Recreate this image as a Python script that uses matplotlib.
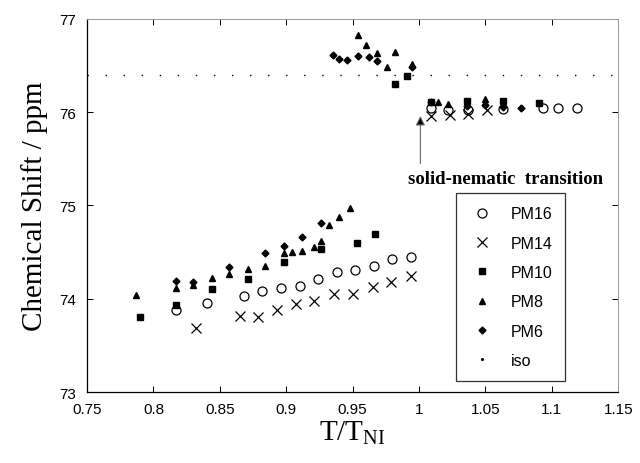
import numpy as np
import matplotlib
matplotlib.use("Agg")
import matplotlib.pyplot as plt
from matplotlib.lines import Line2D

# reduced temperature T/T_NI and chemical shift (ppm)
pm16_t = [0.817, 0.840, 0.868, 0.882, 0.896, 0.910, 0.924, 0.938, 0.952, 0.966, 0.980, 0.994,
          1.009, 1.022, 1.037, 1.063, 1.093, 1.105, 1.119]
pm16_v = [73.88, 73.95, 74.03, 74.08, 74.12, 74.14, 74.21, 74.29, 74.31, 74.35, 74.43, 74.45,
          76.04, 76.02, 76.02, 76.03, 76.05, 76.05, 76.05]

pm14_t = [0.832, 0.865, 0.879, 0.893, 0.907, 0.921, 0.936, 0.950, 0.965, 0.979, 0.994,
          1.009, 1.023, 1.037, 1.051]
pm14_v = [73.69, 73.82, 73.80, 73.88, 73.94, 73.98, 74.05, 74.05, 74.13, 74.18, 74.24,
          75.96, 75.97, 75.98, 76.02]

pm10_t = [0.790, 0.817, 0.844, 0.871, 0.898, 0.926, 0.953, 0.967,
          0.982, 0.991, 1.009, 1.036, 1.063, 1.090]
pm10_v = [73.80, 73.93, 74.10, 74.21, 74.39, 74.53, 74.60, 74.69,
          76.30, 76.39, 76.11, 76.12, 76.12, 76.10]

pm8_t = [0.787, 0.817, 0.830, 0.844, 0.857, 0.871, 0.884, 0.898, 0.904, 0.912, 0.921, 0.926,
         0.932, 0.940, 0.948, 0.954, 0.960, 0.968, 0.976, 0.982, 0.995, 1.014, 1.022, 1.050]
pm8_v = [74.04, 74.12, 74.15, 74.22, 74.27, 74.32, 74.35, 74.49, 74.50, 74.51, 74.55, 74.62,
         74.79, 74.88, 74.97, 76.83, 76.72, 76.63, 76.49, 76.65, 76.52, 76.11, 76.09, 76.14]

pm6_t = [0.817, 0.830, 0.857, 0.884, 0.898, 0.912, 0.926,
         0.935, 0.940, 0.946, 0.954, 0.962, 0.968, 0.995,
         1.009, 1.036, 1.050, 1.063, 1.077]
pm6_v = [74.19, 74.18, 74.34, 74.49, 74.57, 74.66, 74.81,
         76.61, 76.57, 76.56, 76.60, 76.59, 76.55, 76.49,
         76.11, 76.07, 76.08, 76.06, 76.04]

iso_v = 76.40
transition_t = 1.001

plt.rcParams['font.family'] = 'Liberation Sans'
plt.rcParams['mathtext.fontset'] = 'custom'
plt.rcParams['mathtext.rm'] = 'Liberation Serif'

fig = plt.figure(figsize=(6.4, 4.64), dpi=100)
ax = fig.add_axes([0.136, 0.153, 0.830, 0.804])

ax.plot([0.75, 1.15], [iso_v, iso_v], color='black', lw=1.0,
        linestyle=(0, (1, 12)), zorder=1)
ax.plot(pm16_t, pm16_v, 'o', mfc='none', mec='black', mew=0.9, ms=6.5, ls='none', label='PM16')
ax.plot(pm14_t, pm14_v, 'x', color='black', mew=0.9, ms=6.5, ls='none', label='PM14')
ax.plot(pm10_t, pm10_v, 's', color='black', ms=4.5, ls='none', label='PM10')
ax.plot(pm8_t, pm8_v, '^', color='black', ms=4.5, ls='none', label='PM8')
ax.plot(pm6_t, pm6_v, 'D', color='black', ms=3.5, ls='none', label='PM6')

# transition arrow and label
ax.annotate('', xy=(transition_t, 75.96), xytext=(transition_t, 75.45),
            arrowprops=dict(arrowstyle='-|>', facecolor='black', edgecolor='#666666',
                            lw=0.8, mutation_scale=14, shrinkA=0, shrinkB=0))
ax.text(1.0655, 75.29, 'solid-nematic  transition', family='Liberation Serif',
        fontweight='bold', fontsize=13.5, ha='center', va='center')

ax.set_xlim(0.75, 1.15)
ax.set_ylim(73, 77)
ax.set_xticks([0.75, 0.8, 0.85, 0.9, 0.95, 1.0, 1.05, 1.1, 1.15])
ax.set_xticklabels(['0.75', '0.8', '0.85', '0.9', '0.95', '1', '1.05', '1.1', '1.15'])
ax.set_yticks([73, 74, 75, 76, 77])
ax.tick_params(direction='in', length=4, width=0.7, labelsize=11, top=True, right=True)
ax.tick_params(axis='x', pad=7)
ax.tick_params(axis='y', pad=8)
for side in ['top', 'right']:
    ax.spines[side].set_color('#999999')
    ax.spines[side].set_linewidth(0.7)
for side in ['left', 'bottom']:
    ax.spines[side].set_linewidth(0.9)

ax.set_xlabel(r'T/T$_{\mathrm{NI}}$', family='Liberation Serif', fontsize=21, labelpad=2)
ax.set_ylabel('Chemical Shift / ppm', family='Liberation Serif', fontsize=21, labelpad=8)

handles, labels = ax.get_legend_handles_labels()
handles.append(Line2D([], [], marker='.', color='black', ms=2.5, ls='none'))
labels.append('iso')
leg = ax.legend(handles, labels,
                loc='lower left', bbox_to_anchor=(0.695, 0.03), fontsize=11.5,
                frameon=True, fancybox=False, edgecolor='black', handlelength=1.6,
                labelspacing=0.9, borderpad=0.8, handletextpad=1.0, borderaxespad=0)
leg.get_frame().set_linewidth(0.9)

fig.savefig('out.png', dpi=100)
